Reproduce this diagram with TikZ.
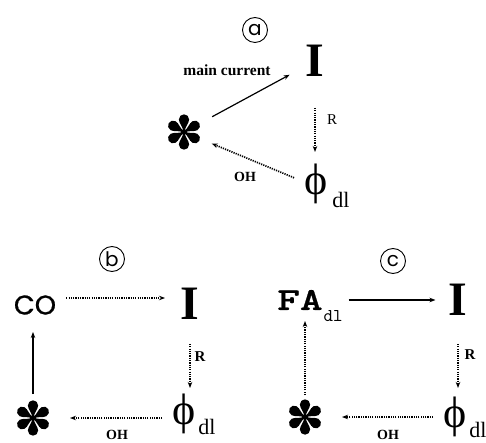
\documentclass[tikz,border=0pt]{standalone}
\usepackage{graphicx}
\usepackage{fontspec}
\setmainfont{Liberation Serif}
\newfontfamily\geofont{Poppins}
\newfontfamily\geoheavy{Poppins}[FakeBold=0.8]
\newfontfamily\courbold{lmmonolt10-bold.otf}[FakeBold=0.6]
\newfontfamily\courreg{lmmono10-regular.otf}
\usetikzlibrary{arrows.meta}

\tikzset{
  flow/.style={line width=1.2pt, -{Stealth[length=6pt,width=4.5pt]}},
  heavyflow/.style={flow, line width=1.7pt},
  dotflow/.style={flow, line width=1.7pt, dash pattern=on 1.2pt off 1.1pt},
  tag/.style={circle, draw, line width=0.9pt, minimum size=25pt, inner sep=0pt,
    font=\geofont\fontsize{20}{20}\selectfont},
  species/.style={inner sep=0pt, font=\bfseries\fontsize{48}{48}\selectfont},
  phinode/.style={inner sep=0pt, font=\fontsize{44}{44}\selectfont},
  subdl/.style={inner sep=0pt, font=\fontsize{22}{22}\selectfont},
  conode/.style={inner sep=0pt, font=\geoheavy\fontsize{27}{27}\selectfont},
  fanode/.style={inner sep=0pt, font=\courbold\fontsize{32}{32}\selectfont},
  fasub/.style={inner sep=0pt, font=\courreg\fontsize{18}{18}\selectfont},
  lbl/.style={inner sep=0pt, font=\bfseries\fontsize{14}{14}\selectfont},
  hub/.style={coordinate},
  petalstar/.pic={
    \foreach \a in {30,90,...,330}
      \fill[rotate=\a] (0,-0.7) .. controls (6,-1) and (8.5,-5.1) .. (12.6,-5.1)
        arc[start angle=-90, end angle=90, radius=5.1]
        .. controls (8.5,5.1) and (6,1) .. (0,0.7) -- cycle;
  }
}

\begin{document}
\begin{tikzpicture}[x=1pt, y=-1pt]
\useasboundingbox (0,0) rectangle (486,443);

% ---------- scheme (a) ----------
\node[tag] (ta) at (255,30) {a};
\node[species] (Ia) at (315,61) {I};
\node[hub] (sa) at (184,132) {};
\pic at (sa) {petalstar};
\node[phinode] (phia) at (316,184) {ϕ};
\node[subdl] (dla) at (341,200) {dl};

\draw[flow, shorten <=32pt, shorten >=18pt] (sa) -- (Ia);
\node[lbl, font=\bfseries\fontsize{15.5}{15.5}\selectfont] (mc) at (227,70) {main current};
\draw[dotflow, shorten <=31pt, shorten >=32pt] (Ia) -- (Ia |- phia);
\node[inner sep=0pt, font=\fontsize{15}{15}\selectfont] (ra) at (332,120) {R};
\draw[dotflow, shorten <=11pt, shorten >=30pt] ([yshift=2pt]phia.west) -- (sa);
\node[lbl] (oha) at (245,177) {OH};

% ---------- scheme (b) ----------
\node[tag] (tb) at (112,259) {b};
\node[conode] (co) at (35,305) {CO};
\node[species] (Ib) at (190,304) {I};
\node[hub] (sb) at (33,418) {};
\pic at (sb) {petalstar};
\node[phinode] (phib) at (184,414) {ϕ};
\node[subdl] (dlb) at (207,427) {dl};

\draw[dotflow, shorten <=10pt, shorten >=25pt] ([yshift=7pt]co.east) -- ([yshift=6pt]Ib.center);
\draw[dotflow, shorten <=24pt, shorten >=26pt] (Ib) -- (Ib |- phib);
\node[lbl, font=\bfseries\fontsize{15}{15}\selectfont] (rb) at (200,357) {R};
\draw[dotflow, shorten <=10pt, shorten >=37pt] (phib.west |- sb) -- (sb);
\node[lbl] (ohb) at (117,435) {OH};
\draw[heavyflow, shorten <=24pt, shorten >=27pt] (sb) -- (sb |- co);

% ---------- scheme (c) ----------
\node[tag] (tc) at (393,261) {c};
\node[fanode] (fa) at (300,300) {\scalebox{1.35}[1]{FA}};
\node[fasub] (fadl) at (333,316) {dl};
\node[species] (Ic) at (458,300) {I};
\node[hub] (sc) at (305,417) {};
\pic at (sc) {petalstar};
\node[phinode] (phic) at (455,417) {ϕ};
\node[subdl] (dlc) at (478,430) {dl};

\draw[heavyflow, shorten <=6pt, shorten >=13pt] (fadl.east |- Ic) -- (Ic);
\draw[dotflow, shorten <=28pt, shorten >=29pt] (Ic) -- (Ic |- phic);
\node[lbl, font=\bfseries\fontsize{15}{15}\selectfont] (rc) at (470,355) {R};
\draw[dotflow, shorten <=10pt, shorten >=37pt] (phic.west |- sc) -- (sc);
\node[lbl] (ohc) at (388,435) {OH};
\draw[dotflow, shorten <=22pt, shorten >=21pt] (sc) -- (sc |- fa);
\end{tikzpicture}
\end{document}
